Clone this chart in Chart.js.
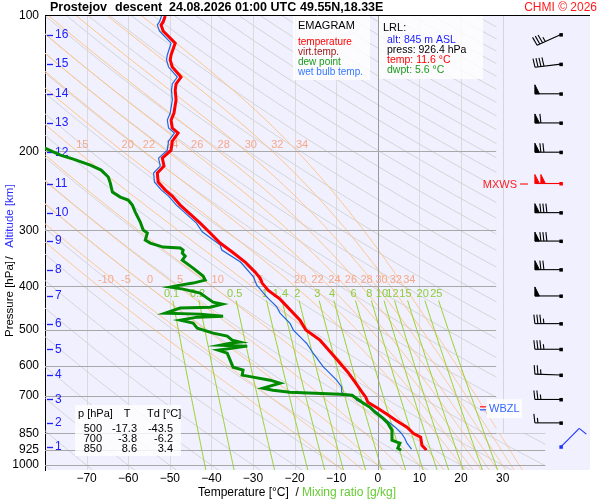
<!DOCTYPE html>
<html><head><meta charset="utf-8">
<script src="https://cdn.jsdelivr.net/npm/chart.js@4.4.1/dist/chart.umd.min.js"></script>
<style>html,body{margin:0;padding:0;background:#fff;}#wrap{position:relative;width:600px;height:500px;}</style>
</head><body><div id="wrap"><canvas id="c"></canvas></div>
<script>
// ---------------- data ----------------
const xTicks = [-70,-60,-50,-40,-30,-20,-10,0,10,20,30];
const pTicks = [100,200,300,400,500,600,700,850,925,1000];

const tempP = [100,103.1,104.7,108,114.9,122.1,125.3,129.9,136.8,141.7,146.2,153.8,164.4,170.5,177.6,182.2,189.8,198.9,207.2,215.8,223.7,234.2,244.1,251.7,263.6,276.1,289.1,304.2,320.2,335.3,353,371.6,383.2,393.2,407.6,426.9,475.4,500,526.8,574.8,620.9,656.9,687.9,705.8,724.1,746.8,770.1,794.2,823.2,850,866.5,902.8,921.4,926.4];
const tempT = [-51.1,-51.6,-52.1,-51.6,-48.7,-49.7,-49.9,-49.4,-47.3,-48.5,-48.7,-48.5,-49.0,-49.7,-49.4,-48.0,-49.4,-49.7,-51.8,-51.4,-53.0,-52.8,-51.1,-49.4,-47.5,-45.1,-42.7,-40.3,-37.9,-35.0,-31.9,-29.5,-28.3,-27.8,-26.4,-23.5,-18.7,-17.3,-13.9,-10.3,-7.2,-5.3,-3.8,-2.9,-2.4,0.0,2.2,4.3,7.0,8.6,10.3,10.6,11.5,11.6];

const wetP = [100,103.1,104.7,108,114.9,122.1,125.3,129.9,136.8,141.7,146.2,153.8,164.4,170.5,177.6,182.2,189.8,198.9,207.2,215.8,223.7,234.2,244.1,251.7,263.6,276.1,289.1,302.2,323.6,331.9,353,380.7,397.5,422.1,444.1,458.6,483.5,500.4,526.8,535.8,564,604.2,614.5,646.8,669.4,686.8,694.8,698.4,716.6,735.4,761,794.2,821.9,850,872,893.3,921.4];
const wetT = [-52.0,-52.5,-53.0,-52.5,-49.7,-50.6,-50.8,-50.3,-48.2,-49.4,-49.6,-49.4,-49.9,-50.6,-50.3,-48.9,-50.3,-50.6,-52.7,-52.3,-53.9,-53.7,-52.0,-50.3,-48.4,-46.0,-43.6,-42.2,-37.9,-37.5,-33.0,-29.9,-29.1,-26.7,-24.3,-23.5,-21.1,-20.3,-17.9,-17.1,-15.5,-13.1,-12.3,-9.9,-8.7,-8.7,-8.3,-6.0,-5.1,-2.7,-0.3,2.1,4.1,5.7,6.5,7.0,8.1];

const dewP = [195,204,208.2,214.7,220.3,228.3,235.5,246.6,253,256.9,263.6,273.2,287.6,299.6,304.3,315.4,320.3,326.9,328.6,332,337.1,342.4,349.5,364.1,379.3,387.2,393.2,397.3,401.4,405.5,413.9,424.7,433.5,438,444.8,447,458.7,461,465.8,468.2,475.4,482.8,495.3,508.2,516.1,526.8,532.2,534.9,540.5,543.2,548.8,554.5,563.1,583.7,605,614.4,630.3,636.8,646.7,656.7,673.8,680.7,687.8,694.8,698.4,724,742.8,762,785.8,806.2,835.7,879.6,888.7,893.3,916.5,926.4];
const dewT = [-81,-76.3,-73.2,-69.1,-66.5,-64.8,-64.3,-63.8,-61.9,-60.0,-59.0,-58.3,-57.1,-56.4,-55.4,-55.9,-54.7,-51.6,-47.5,-46.8,-47.0,-46.3,-47.0,-44.4,-42.0,-41.5,-44.4,-47.5,-49.9,-46.8,-42.7,-41.0,-39.6,-37.4,-40.3,-47.5,-51.1,-42.7,-37.2,-43.4,-47.5,-44.4,-43.4,-39.6,-36.2,-35.0,-33.1,-35.5,-37.9,-31.4,-34.8,-38.4,-36.2,-35.5,-34.8,-32.4,-32.6,-30.0,-25.9,-23.5,-27.6,-25.2,-21.1,-9.1,-6.2,-3.8,-1.9,-0.7,1.2,2.4,3.4,3.4,4.6,5.3,4.8,5.6];

const altKm = [1,2,3,4,5,6,7,8,9,10,11,12,13,14,15,16];
const altP  = [910,805,714,630,552,484,420,367,317,274,236,201,173,149,128,110];
const windDir = [45,270,270,272,270,270,270,270,270,270,270,270,270,270,263,246];
const windSpd = [10,15,25,25,35,35,50,70,80,80,100,70,60,50,40,35];
const mxwsKm = 11;
const wbzlP = 747;

const mixRatios = [0.1,0.2,0.5,1,1.4,2,3,4,6,8,10,12,15,20,25];
const thetaW = [-10,-5,0,5,10,15,20,22,24,26,28,30,32,34];
const dryTheta = [-80,-70,-60,-50,-40,-30,-20,-10,0,10,20,30,40,50,60,70,80,90,100,110,120,130,140,150,160,170,180,190,200,210,220,230,240,250,260,270,280,290,300,310,320];

const tabP = [500,700,850];
const tabT = ['-17.3','-3.8','8.6'];
const tabTd = ['-43.5','-6.2','3.4'];
const lrlAlt = 845, lrlPress = 926.4, lrlTemp = 11.6, lrlDwpt = 5.6;

// ---------------- helpers ----------------
const FONT = 'Arial, "Liberation Sans", Helvetica, sans-serif';
function esat(tc){ return 6.112*Math.exp(17.67*tc/(tc+243.5)); }
function tdFromMix(w,p){ const e=w*p/(622+w); const l=Math.log(e/6.112); return 243.5*l/(17.67-l); }
function dryT(th,p){ return (th+273.15)*Math.pow(p/1000,0.2857)-273.15; }
function moistCurve(tw){
  const Rd=287.04,cp=1005.7,L=2.501e6,eps=0.622;
  const f=(p,T)=>{const es=esat(T-273.15);const rs=eps*es/(p-es);return (Rd*T+L*rs)/(p*(cp+L*L*rs*eps/(Rd*T*T)));};
  const rk=(p,T,h)=>{const k1=f(p,T),k2=f(p+h/2,T+h/2*k1),k3=f(p+h/2,T+h/2*k2),k4=f(p+h,T+h*k3);return T+h/6*(k1+2*k2+2*k3+k4);};
  const low=[]; let T=tw+273.15, p=1000;
  while(p<1030){ T=rk(p,T,2); p+=2; low.push([p,T-273.15]); }
  low.reverse();
  const pts=low.concat([[1000,tw]]);
  T=tw+273.15; p=1000;
  while(p>100){ T=rk(p,T,-2); p-=2; pts.push([p,T-273.15]); }
  return pts;
}
function tAt(pts,p){
  for(let i=0;i<pts.length-1;i++){
    const a=pts[i],b=pts[i+1];
    if((a[0]-p)*(b[0]-p)<=0){ const t=(p-a[0])/(b[0]-a[0]); return a[1]+t*(b[1]-a[1]); }
  }
  return null;
}
const moistCurves = thetaW.map(moistCurve);

function drawBarb(ctx,x0,y0,dir,spd,col){
  const a=dir*Math.PI/180, ux=Math.sin(a), uy=-Math.cos(a), px=-uy, py=ux;
  const L=26, BL=9, SP=3, PW=4.5;
  ctx.save(); ctx.strokeStyle=col; ctx.fillStyle=col; ctx.lineWidth=1.1;
  ctx.beginPath(); ctx.moveTo(x0,y0); ctx.lineTo(x0+ux*L,y0+uy*L); ctx.stroke();
  let s=Math.round(spd/5)*5; const n50=Math.floor(s/50); s-=n50*50; const n10=Math.floor(s/10); s-=n10*10; const n5=s>=5?1:0;
  let pos=L; const P=d=>[x0+ux*d,y0+uy*d];
  for(let i=0;i<n50;i++){ const [bx,by]=P(pos),[cx,cy]=P(pos-PW); ctx.beginPath(); ctx.moveTo(bx,by); ctx.lineTo(bx+px*BL,by+py*BL); ctx.lineTo(cx,cy); ctx.closePath(); ctx.fill(); ctx.lineWidth=1; ctx.stroke(); pos-=PW+1.5; }
  ctx.lineWidth=1.1;
  for(let i=0;i<n10;i++){ const [bx,by]=P(pos); ctx.beginPath(); ctx.moveTo(bx,by); ctx.lineTo(bx+px*BL+ux*1,by+py*BL+uy*1); ctx.stroke(); pos-=SP; }
  if(n5){ if(n50===0&&n10===0) pos-=SP; const [bx,by]=P(pos); ctx.beginPath(); ctx.moveTo(bx,by); ctx.lineTo(bx+px*BL*0.55+ux*0.5,by+py*BL*0.55+uy*0.5); ctx.stroke(); }
  ctx.fillRect(x0-1.5,y0-1.5,3.5,3.5);
  ctx.restore();
}
function seg(ctx,x1,y1,x2,y2){ ctx.beginPath(); ctx.moveTo(x1,y1); ctx.lineTo(x2,y2); ctx.stroke(); }

// ---------------- plugins ----------------
const bgPlugin = {
  id:'bg',
  beforeDraw(chart){
    const {ctx,chartArea:a}=chart;
    ctx.save(); ctx.fillStyle='#f0f0ff'; ctx.fillRect(a.left,a.top,a.right-a.left,a.bottom-a.top); ctx.restore();
  },
  beforeDatasetsDraw(chart){
    const {ctx,chartArea:a,scales:{x:xs,y:ys}}=chart;
    const X=v=>xs.getPixelForValue(v), Y=v=>ys.getPixelForValue(v);
    const xr1=X(28.5), xr2=X(40.3), y850=Y(850);
    ctx.save();
    ctx.beginPath(); ctx.moveTo(a.left,a.top); ctx.lineTo(xr1,a.top); ctx.lineTo(xr1,y850); ctx.lineTo(xr2,y850); ctx.lineTo(xr2,a.bottom); ctx.lineTo(a.left,a.bottom); ctx.closePath(); ctx.clip();
    ctx.lineWidth=1;
    ctx.strokeStyle='#dadada';
    xTicks.forEach(v=>{ if(v===0||v===30) return; const x=Math.round(X(v))+0.5; seg(ctx,x,a.top,x,a.bottom); });
    ctx.strokeStyle='#d4d4d4';
    dryTheta.forEach(th=>{ ctx.beginPath(); let first=true; for(let p=1030;p>=100;p-=5){ const x=X(dryT(th,p)),y=Y(p); if(first){ctx.moveTo(x,y);first=false;} else ctx.lineTo(x,y);} ctx.stroke(); });
    ctx.strokeStyle='#ffc488';
    moistCurves.forEach(c=>{ ctx.beginPath(); c.forEach((pt,i)=>{ const x=X(pt[1]),y=Y(pt[0]); if(i===0) ctx.moveTo(x,y); else ctx.lineTo(x,y); }); ctx.stroke(); });
    ctx.strokeStyle='#9ad22a';
    mixRatios.forEach(w=>{ ctx.beginPath(); let first=true; for(let p=430;p<=1030;p+=10){ const x=X(tdFromMix(w,p)),y=Y(p); if(first){ctx.moveTo(x,y);first=false;} else ctx.lineTo(x,y);} ctx.stroke(); });
    ctx.strokeStyle='#9a9a9a'; const x0=Math.round(X(0))+0.5; seg(ctx,x0,a.top,x0,a.bottom);
    ctx.strokeStyle='#a8a8a8';
    pTicks.forEach(p=>{ if(p===100) return; const y=Math.round(Y(p))+0.5; seg(ctx,a.left,y,p>=850?xr2:xr1,y); });
    ctx.restore();
    ctx.save(); ctx.strokeStyle='#d6d6d6'; ctx.lineWidth=1; const x30=Math.round(X(30))+0.5; seg(ctx,x30,a.top,x30,y850); ctx.restore();
    ctx.save();
    ctx.beginPath(); ctx.rect(a.left,a.top,a.right-a.left,a.bottom-a.top); ctx.clip();
    ctx.font='11px '+FONT; ctx.textBaseline='middle'; ctx.textAlign='left'; ctx.fillStyle='#f6a888';
    [400,200].forEach(pl=>{
      thetaW.forEach((tw,k)=>{ const t=tAt(moistCurves[k],pl); if(t===null) return; const x=X(t)-1; if(x<a.left+2) return; ctx.fillText(String(tw),x,Y(pl)-6); });
    });
    ctx.fillStyle='#8fcc3a'; ctx.textAlign='center';
    mixRatios.forEach(w=>{ ctx.fillText(String(w),X(tdFromMix(w,415)),Y(415)); });
    ctx.fillStyle='#2020ff'; ctx.strokeStyle='#2020ff'; ctx.lineWidth=1.3; ctx.font='12px '+FONT; ctx.textAlign='left';
    altKm.forEach((k,i)=>{ const y=Y(altP[i]); seg(ctx,a.left+2,Math.round(y)+0.5,a.left+8,Math.round(y)+0.5); ctx.fillText(String(k),a.left+10,y); });
    ctx.restore();
  },
  afterDatasetsDraw(chart){
    const {ctx,chartArea:a,scales:{x:xs,y:ys}}=chart;
    const X=v=>xs.getPixelForValue(v), Y=v=>ys.getPixelForValue(v);
    ctx.save();
    ctx.fillStyle='rgba(255,255,255,0.8)';
    ctx.fillRect(293,a.top,77,64);
    ctx.fillRect(379,a.top,104,63);
    ctx.fillRect(75,405,106,51);
    ctx.textBaseline='middle'; ctx.textAlign='left';
    ctx.font='11px '+FONT; ctx.fillStyle='#000'; ctx.fillText('EMAGRAM',298,26);
    ctx.font='10px '+FONT;
    ctx.fillStyle='#ff0000'; ctx.fillText('temperature',298,42);
    ctx.fillStyle='#a01818'; ctx.fillText('virt.temp.',298,52);
    ctx.fillStyle='#1a9a1a'; ctx.fillText('dew point',298,62);
    ctx.fillStyle='#3377ff'; ctx.fillText('wet bulb temp.',298,72);
    ctx.font='11px '+FONT; ctx.fillStyle='#000'; ctx.fillText('LRL:',383,28);
    ctx.font='10.5px '+FONT;
    ctx.fillStyle='#1a1aff'; ctx.fillText('alt: '+lrlAlt+' m ASL',387,40);
    ctx.fillStyle='#000'; ctx.fillText('press: '+lrlPress.toFixed(1)+' hPa',387,50);
    ctx.fillStyle='#ff0000'; ctx.fillText('temp: '+lrlTemp.toFixed(1)+' °C',387,60.5);
    ctx.fillStyle='#1a9a1a'; ctx.fillText('dwpt: '+lrlDwpt.toFixed(1)+' °C',387,70.5);
    ctx.font='11px '+FONT; ctx.fillStyle='#000';
    ctx.fillText('p [hPa]',78,413.5); ctx.textAlign='center'; ctx.fillText('T',127,413.5); ctx.textAlign='left'; ctx.fillText('Td [°C]',147,413.5);
    ctx.textAlign='right';
    tabP.forEach((p,i)=>{ const y=428.5+i*10.2; ctx.fillText(String(p),102,y); ctx.fillText(tabT[i],137,y); ctx.fillText(tabTd[i],173,y); });
    const yw=Y(wbzlP);
    ctx.fillStyle='rgba(255,255,255,0.85)'; ctx.fillRect(487,yw-9,35,19);
    ctx.lineWidth=1.3;
    ctx.strokeStyle='#ff2020'; seg(ctx,480,yw-1.5,486,yw-1.5);
    ctx.strokeStyle='#3366ff'; seg(ctx,480,yw+1.5,486,yw+1.5);
    ctx.textAlign='left'; ctx.font='11px '+FONT; ctx.fillStyle='#3366ff'; ctx.fillText('WBZL',489,yw+1);
    const xb=X(44);
    altKm.forEach((k,i)=>{
      const y=Y(altP[i]);
      let col='#000';
      if(k===mxwsKm) col='#ff0000';
      if(i===0) col='#1a33ff';
      drawBarb(ctx,xb,y,windDir[i],windSpd[i],col);
    });
    const ym=Y(altP[altKm.indexOf(mxwsKm)]);
    ctx.fillStyle='#ff2020'; ctx.textAlign='right'; ctx.font='11px '+FONT; ctx.fillText('MXWS',517,ym+1);
    ctx.strokeStyle='#ff2020'; ctx.lineWidth=1.2; seg(ctx,520,ym+0.5,528,ym+0.5);
    ctx.strokeStyle='#000'; ctx.lineWidth=1; seg(ctx,a.left,a.top-0.5,a.right,a.top-0.5);
    ctx.restore();
  },
  afterDraw(chart){
    const {ctx}=chart;
    ctx.save();
    ctx.textBaseline='middle'; ctx.textAlign='left'; ctx.fillStyle='#000';
    ctx.font='bold 12.5px '+FONT;
    ctx.fillText('Prostejov',50,8); ctx.fillText('descent',115,8); ctx.fillText('24.08.2026 01:00 UTC',169,8); ctx.fillText('49.55N,18.33E',300,8);
    ctx.font='12px '+FONT; ctx.fillStyle='#ff1a1a'; ctx.textAlign='right'; ctx.fillText('CHMI © 2026',597,8);
    ctx.textAlign='left'; ctx.fillStyle='#000'; ctx.fillText('Temperature [°C]  /',198,493);
    ctx.fillStyle='#66cc33'; ctx.fillText('Mixing ratio [g/kg]',302,493);
    ctx.translate(10,0); ctx.rotate(-Math.PI/2);
    ctx.textAlign='center'; ctx.font='11.5px '+FONT;
    ctx.fillStyle='#000'; ctx.fillText('Pressure [hPa]',-299,0); ctx.fillText('/',-258,0);
    ctx.fillStyle='#2a2aff'; ctx.fillText('Altitude [km]',-216,0);
    ctx.restore();
  }
};

// ---------------- chart ----------------
const mk=(P,T)=>P.map((p,i)=>({x:T[i],y:p}));
new Chart(document.getElementById('c'),{
  type:'scatter',
  data:{datasets:[
    {label:'temperature',data:mk(tempP,tempT),showLine:true,borderColor:'#ff0000',borderWidth:3,pointRadius:0,tension:0,order:1},
    {label:'dew point',data:mk(dewP,dewT),showLine:true,borderColor:'#008a00',borderWidth:3,pointRadius:0,tension:0,order:2},
    {label:'wet bulb temp.',data:mk(wetP,wetT),showLine:true,borderColor:'#1f66e0',borderWidth:1.2,pointRadius:0,tension:0,order:3}
  ]},
  options:{
    responsive:true,maintainAspectRatio:false,animation:false,
    layout:{padding:{top:16,right:10,left:0,bottom:0}},
    plugins:{legend:{display:false},tooltip:{enabled:false}},
    scales:{
      x:{type:'linear',min:-80,max:51,
        grid:{display:false,drawTicks:false},border:{display:false},
        ticks:{font:{size:12,family:FONT},color:'#000',padding:1,maxRotation:0,autoSkip:false,
          callback:v=>String(v).replace('-','\u2212')},
        afterBuildTicks:s=>{s.ticks=xTicks.map(v=>({value:v}));},
        afterFit:s=>{s.height=30;}},
      y:{type:'logarithmic',min:100,max:1025,reverse:true,
        grid:{display:false,drawTicks:false},border:{display:true,color:'#000',width:1},
        ticks:{font:{size:12,family:FONT},color:'#000',padding:6,autoSkip:false,callback:v=>String(v)},
        afterBuildTicks:s=>{s.ticks=pTicks.map(v=>({value:v}));},
        afterFit:s=>{s.width=45;}}
    }
  },
  plugins:[bgPlugin]
});
</script></body></html>
